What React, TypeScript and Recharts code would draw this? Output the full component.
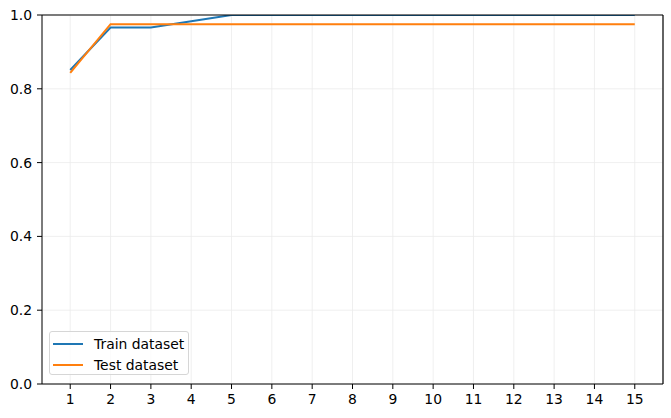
import { LineChart, Line, XAxis, YAxis, CartesianGrid, ReferenceLine } from 'recharts'

const epochs = [1, 2, 3, 4, 5, 6, 7, 8, 9, 10, 11, 12, 13, 14, 15]
const trainAcc = [0.851, 0.966, 0.966, 0.983, 1.0, 1.0, 1.0, 1.0, 1.0, 1.0, 1.0, 1.0, 1.0, 1.0, 1.0]
const testAcc = [0.843, 0.975, 0.975, 0.975, 0.975, 0.975, 0.975, 0.975, 0.975, 0.975, 0.975, 0.975, 0.975, 0.975, 0.975]
const yTicks = [0, 0.2, 0.4, 0.6, 0.8, 1.0]

const COLOURS = { train: '#1f77b4', test: '#ff7f0e', grid: '#ebebeb' }
const FONT = 'DejaVu Sans, sans-serif'

const data = epochs.map((e, i) => ({ epoch: e, train: trainAcc[i], test: testAcc[i] }))

const legendItems = [
  { label: 'Train dataset', colour: COLOURS.train },
  { label: 'Test dataset', colour: COLOURS.test },
]

// legend drawn as a plain overlay so it doesn't steal height from the plot
function LegendBox() {
  return (
    <div style={{
      position: 'absolute', left: 49, top: 331, width: 140, height: 44, boxSizing: 'border-box',
      background: 'rgba(255,255,255,0.8)', border: '1px solid #d6d6d6', borderRadius: 3,
      padding: '1px 0 0 3px', fontFamily: FONT, fontSize: 13.9, color: '#000', whiteSpace: 'nowrap',
    }}>
      {legendItems.map((it) => (
        <div key={it.label} style={{ display: 'flex', alignItems: 'center', height: 21 }}>
          <span style={{ display: 'inline-block', width: 30, height: 2, background: it.colour, marginRight: 11 }} />
          <span>{it.label}</span>
        </div>
      ))}
    </div>
  )
}

export default function App() {
  const tick = { fontSize: 13.9, fontFamily: FONT, fill: '#000' }
  return (
    <div style={{ position: 'absolute', left: 0, top: 0, width: 671, height: 418, background: '#fff' }}>
      <LineChart width={671} height={418} data={data} margin={{ top: 15, right: 8, bottom: 0, left: 0 }}>
        <CartesianGrid stroke={COLOURS.grid} strokeWidth={0.8} />
        <XAxis
          dataKey="epoch" type="number" domain={[0.3, 15.7]} ticks={epochs} height={34}
          tick={tick} tickSize={5} tickMargin={5} stroke="#000" allowDataOverflow
        />
        <YAxis
          type="number" domain={[0, 1]} ticks={yTicks} width={42} tickFormatter={(v: number) => v.toFixed(1)}
          tick={tick} tickSize={5} tickMargin={5} stroke="#000" allowDataOverflow
        />
        <Line dataKey="train" stroke={COLOURS.train} strokeWidth={2} dot={false} isAnimationActive={false} />
        <Line dataKey="test" stroke={COLOURS.test} strokeWidth={2} dot={false} isAnimationActive={false} />
        <ReferenceLine y={1} stroke="#000" strokeWidth={1.2} />
        <ReferenceLine x={15.7} stroke="#000" strokeWidth={1.2} />
      </LineChart>
      <LegendBox />
    </div>
  )
}
